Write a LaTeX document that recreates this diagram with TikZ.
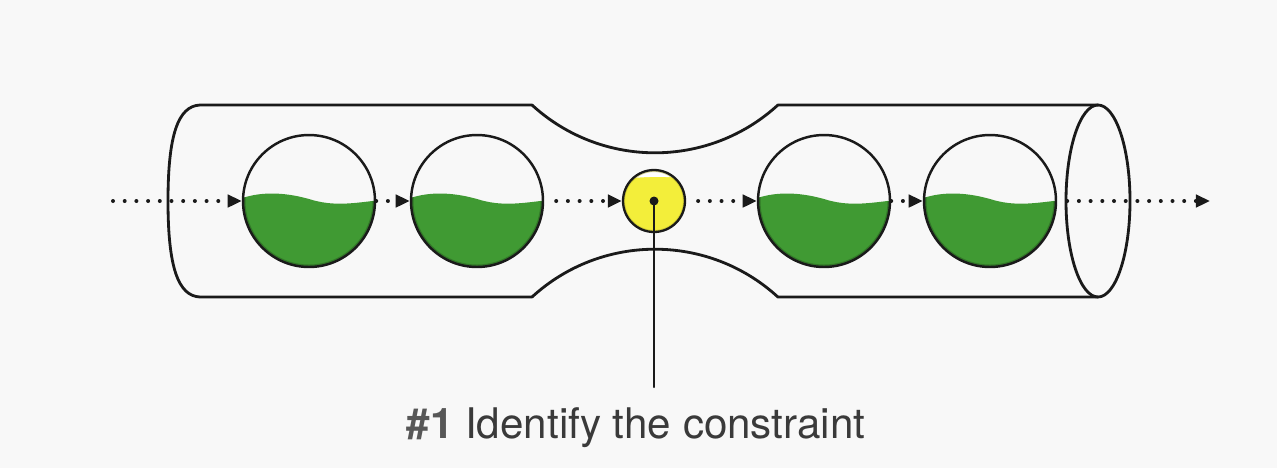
\documentclass[tikz,border=0pt]{standalone}
\usepackage{fontspec}
\setmainfont{TeX Gyre Heros}
\usepackage{tikz}
\usetikzlibrary{
    arrows.meta,
    positioning
}
\definecolor{paper} {HTML}{F8F8F8}
\definecolor{ink}   {HTML}{1A1A1A}
\definecolor{liquid}{HTML}{409A33}
\definecolor{choke} {HTML}{F3EE3A}
\definecolor{capt}  {HTML}{3A3A3A}
\definecolor{captno}{HTML}{575757}

\begin{document}
\begin{tikzpicture}[
    x=0.02cm, y=-0.02cm,
    line cap=round, line join=round,
    %% --- semantic styles ---
    pipe/.style    = {draw=ink, line width=1.6pt},
    vessel/.style  = {circle, draw=ink, line width=1.4pt, inner sep=0pt,
                      minimum size=2.64cm},
    bottleneck/.style = {circle, draw=ink, line width=1.3pt, inner sep=0pt,
                      minimum size=1.24cm},
    flow/.style    = {draw=ink, line width=0.08cm,
                      dash pattern=on 0pt off 0.234cm,
                      -{Triangle[length=8pt, width=7pt]}},
    leader/.style  = {draw=ink, line width=1.2pt},
    caption/.style = {font=\fontsize{24}{28}\selectfont, text=capt,
                      anchor=base, inner sep=0pt}
]
\fill[paper] (0,0) rectangle (1277,468);
\useasboundingbox (0,0) rectangle (1277,468);

%% =====================================================
%% PIPE -- wide body, narrow neck, open end on the right
%% =====================================================
\draw[pipe] (532,105) -- (200,105)
    .. controls (178,106) and (168,135) .. (168,201)
    .. controls (168,267) and (178,296) .. (200,297) -- (532,297);
\draw[pipe] (532,105) arc[start angle=132.5, end angle=47.5, radius=182]
    -- (1098,105);
\draw[pipe] (532,297) arc[start angle=-132.5, end angle=-47.5, radius=182]
    -- (1098,297);
\draw[pipe] (1098,201) ellipse[x radius=32, y radius=96];

%% =====================================================
%% VESSELS -- half full of liquid
%% =====================================================
\foreach \n/\x in {v1/309, v2/477, v3/824, v4/990} {
    \begin{scope}
        \clip (\x,201) circle (66);
        \clip (\x-72,200) .. controls (\x-50,191) and (\x-25,192) .. (\x,199)
            .. controls (\x+25,207) and (\x+45,203) .. (\x+72,200)
            -- (\x+72,272) -- (\x-72,272) -- cycle;
        \fill[liquid] (\x-72,185) rectangle (\x+72,272);
        \draw[liquid!60!black, line width=0.1cm, opacity=0.55]
            (\x,201) circle (66);
    \end{scope}
    \node[vessel] (\n) at (\x,201) {};
}

%% =====================================================
%% CONSTRAINT -- the small yellow one in the neck
%% =====================================================
\begin{scope}
    \clip (654,201) circle (31);
    \fill[choke] (620,165) rectangle (690,236);
    \fill[white] (620,165) -- (690,165) -- (690,179)
        .. controls (670,176) and (640,176) .. (620,180) -- cycle;
    \draw[choke!70!black, line width=0.08cm, opacity=0.5] (654,201) circle (31);
\end{scope}
\node[bottleneck] (neck) at (654,201) {};
\fill[ink] (neck.center) circle (4.5);

%% =====================================================
%% FLOW through the pipe
%% =====================================================
\coordinate (in)  at (113,201);
\coordinate (out) at (1210,201);
\draw[flow] (in)   -- (v1.west);
\draw[flow] (v1)   -- (v2);
\draw[flow] ([xshift=0.24cm]v2.east) -- (neck.west);
\draw[flow] ([xshift=0.24cm]neck.east) -- (v3.west);
\draw[flow] (v3)   -- (v4);
\draw[flow] ([xshift=0.2cm]v4.east) -- (out);

%% =====================================================
%% CAPTION
%% =====================================================
\node[caption] (lbl) at (636,438)
    {\textcolor{captno}{\textbf{\#1}} Identify the constraint};
\coordinate (tip) at (654,387);
\draw[leader] (neck.center) -- (tip);

\end{tikzpicture}
\end{document}
